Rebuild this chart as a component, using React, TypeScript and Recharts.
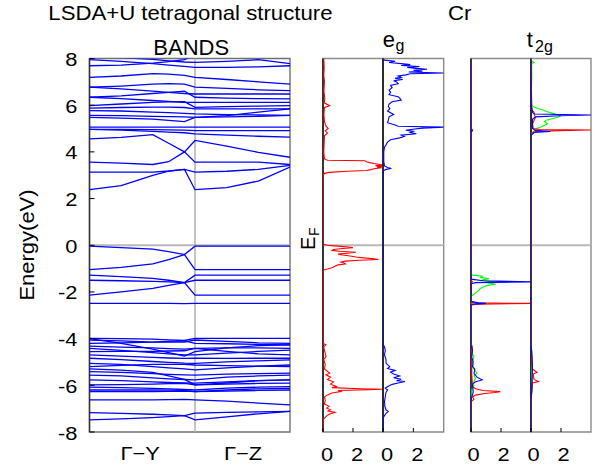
import React from 'react';
import { ScatterChart, Scatter, XAxis, YAxis, ReferenceLine, ReferenceArea } from 'recharts';

const FONT = '"Liberation Sans", Arial, Helvetica, sans-serif';
const SX = 1.15;

// ---------- band structure data ----------
const kPoints = [0, 0.3, 0.6, 0.75, 0.9, 1.0, 1.3, 1.6, 1.9];
const kTickPos = [0.48, 1.455];
const kTickLabels = ['\u0393\u2212Y', '\u0393\u2212Z'];
const energyTicks = [-8, -6, -4, -2, 0, 2, 4, 6, 8];

const bandsUpper: number[][] = [
  [7.95, 7.88, 7.78, 7.72, 7.66, 7.62, 7.62, 7.64, 7.69],
  [8.1, 8.04, 7.96, 7.9, 7.85, 7.83, 7.88, 7.95, 7.78],
  [7.69, 7.72, 7.8, 7.87, 7.95, 8.15, 8.3, 8.3, 8.3],
  [7.19, 7.25, 7.35, 7.33, 7.28, 7.19, 7.1, 7.0, 6.9],
  [6.77, 6.82, 6.9, 6.92, 6.9, 6.77, 6.72, 6.66, 6.62],
  [6.77, 6.7, 6.6, 6.55, 6.5, 6.48, 6.48, 6.48, 6.48],
  [6.34, 6.4, 6.5, 6.55, 6.6, 6.34, 6.3, 6.28, 6.27],
  [6.34, 6.28, 6.2, 6.16, 6.12, 6.12, 6.12, 6.12, 6.12],
  [5.98, 6.05, 6.12, 6.14, 6.15, 5.91, 5.94, 5.96, 5.98],
  [5.87, 5.9, 5.92, 5.92, 5.9, 5.84, 5.84, 5.84, 5.84],
  [5.77, 5.75, 5.7, 5.68, 5.65, 5.63, 5.6, 5.58, 5.56],
  [5.56, 5.55, 5.52, 5.51, 5.5, 5.48, 5.55, 5.7, 5.84],
  [5.48, 5.45, 5.4, 5.35, 5.3, 5.48, 5.5, 5.52, 5.56],
  [5.06, 5.06, 5.06, 5.06, 5.06, 5.06, 5.06, 5.06, 5.06],
  [4.96, 4.96, 4.95, 4.94, 4.93, 4.91, 4.91, 4.91, 4.91],
  [4.96, 4.93, 4.88, 4.85, 4.82, 4.77, 4.72, 4.67, 4.63],
  [4.56, 4.62, 4.74, 4.37, 4.0, 3.56, 3.56, 3.56, 3.46],
  [3.56, 3.52, 3.46, 3.58, 4.0, 4.49, 4.25, 3.98, 3.77],
  [3.13, 3.13, 3.13, 3.18, 3.25, 3.13, 3.17, 3.25, 3.42],
  [2.38, 2.55, 2.99, 3.18, 3.25, 2.38, 2.47, 2.75, 3.35],
];

const bandsGap: number[][] = [
  [-0.04, -0.1, -0.17, -0.27, -0.4, -0.04, -0.04, -0.04, -0.04],
  [-1.04, -0.95, -0.8, -0.62, -0.4, -1.04, -1.04, -1.04, -1.04],
  [-1.28, -1.34, -1.42, -1.5, -1.6, -2.14, -2.14, -2.14, -2.14],
  [-2.14, -2.0, -1.85, -1.72, -1.6, -1.28, -1.28, -1.28, -1.28],
  [-1.5, -1.52, -1.55, -1.57, -1.6, -1.5, -1.5, -1.5, -1.5],
  [-2.49, -2.49, -2.49, -2.49, -2.5, -2.49, -2.49, -2.49, -2.49],
];

const bandsLower: number[][] = [
  [-3.99, -4.0, -4.02, -4.05, -4.08, -3.99, -3.99, -3.99, -3.99],
  [-4.06, -4.1, -4.15, -4.15, -4.15, -4.06, -4.12, -4.18, -4.2],
  [-4.2, -4.18, -4.15, -4.12, -4.1, -4.2, -4.22, -4.25, -4.27],
  [-4.32, -4.36, -4.4, -4.43, -4.45, -4.42, -4.4, -4.4, -4.42],
  [-4.42, -4.5, -4.6, -4.65, -4.7, -4.7, -4.62, -4.55, -4.49],
  [-4.56, -4.55, -4.55, -4.53, -4.52, -4.42, -4.55, -4.65, -4.7],
  [-4.7, -4.75, -4.8, -4.83, -4.85, -4.84, -4.85, -4.84, -4.84],
  [-4.84, -4.9, -4.98, -5.02, -5.05, -5.06, -5.0, -4.95, -4.91],
  [-5.06, -5.1, -5.2, -5.25, -5.3, -5.34, -5.25, -5.18, -5.13],
  [-5.2, -5.15, -5.1, -5.1, -5.1, -5.13, -5.16, -5.18, -5.2],
  [-5.41, -5.45, -5.5, -5.53, -5.55, -5.56, -5.52, -5.5, -5.48],
  [-5.56, -5.6, -5.68, -5.72, -5.75, -5.77, -5.65, -5.6, -5.56],
  [-5.77, -5.8, -5.85, -5.88, -5.9, -5.91, -5.85, -5.8, -5.77],
  [-5.98, -5.97, -5.95, -5.93, -5.92, -5.98, -5.95, -5.92, -5.91],
  [-6.08, -6.1, -6.13, -6.15, -6.18, -6.2, -6.12, -6.08, -6.06],
  [-6.2, -6.2, -6.2, -6.21, -6.22, -6.27, -6.2, -6.15, -6.13],
  [-6.27, -6.27, -6.27, -6.26, -6.25, -6.27, -6.25, -6.22, -6.2],
  [-6.62, -6.62, -6.62, -6.61, -6.6, -6.62, -6.68, -6.76, -6.84],
  [-7.17, -7.2, -7.24, -7.27, -7.3, -7.19, -7.16, -7.14, -7.12],
  [-7.48, -7.44, -7.38, -7.34, -7.3, -7.48, -7.35, -7.22, -7.12],
  [-4.0, -4.2, -4.45, -4.6, -4.75, -4.56, -4.4, -4.3, -4.27],
  [-5.3, -5.35, -5.45, -5.6, -5.75, -5.98, -5.9, -5.8, -5.77],
];

// ---------- DOS data: [energy, dos] ----------
const dosTicks = [0, 2];

const egUp: number[][] = [
  [8.0, 0.05], [7.6, 0.08], [7.3, 0.05], [7.0, 0.1], [6.6, 0.06], [6.3, 0.12], [6.1, 0.08], [5.98, 0.45], [5.9, 0.1],
  [5.6, 0.06], [5.3, 0.1], [5.1, 0.2], [5.0, 0.35], [4.9, 0.15], [4.8, 0.3], [4.7, 0.1], [4.4, 0.08], [4.0, 0.05],
  [3.7, 0.1], [3.64, 0.3], [3.62, 2.8], [3.58, 2.9], [3.54, 3.1], [3.5, 3.4], [3.47, 3.7], [3.44, 4.0], [3.41, 3.5],
  [3.38, 4.0], [3.35, 3.6], [3.32, 3.9], [3.28, 3.4], [3.24, 3.2], [3.2, 2.9], [3.17, 1.6], [3.12, 0.4], [3.08, 0.1],
  [3.0, 0.02], [2.8, 0], [0.05, 0], [0, 0.3], [-0.05, 1.2], [-0.1, 2.0], [-0.14, 1.3], [-0.18, 0.7], [-0.22, 0.6],
  [-0.26, 1.1], [-0.3, 2.2], [-0.34, 1.6], [-0.38, 1.0], [-0.42, 1.3], [-0.46, 1.8], [-0.5, 2.2], [-0.54, 2.7],
  [-0.58, 3.4], [-0.61, 3.7], [-0.64, 2.4], [-0.68, 1.5], [-0.72, 1.2], [-0.76, 1.4], [-0.8, 1.5], [-0.84, 1.0],
  [-0.9, 0.8], [-0.96, 0.6], [-1.02, 0.3], [-1.06, 0.05], [-1.1, 0], [-4.2, 0], [-4.27, 0.2], [-4.35, 0.05],
  [-4.5, 0.1], [-4.77, 0.2], [-4.9, 0.05], [-5.1, 0.15], [-5.3, 0.1], [-5.48, 0.45], [-5.55, 0.2], [-5.65, 0.5],
  [-5.75, 0.3], [-5.85, 0.7], [-5.95, 0.5], [-6.05, 0.9], [-6.1, 0.6], [-6.15, 2.5], [-6.17, 4.0], [-6.19, 3.0],
  [-6.22, 1.0], [-6.27, 1.2], [-6.33, 0.6], [-6.41, 0.3], [-6.5, 0.1], [-6.65, 0.15], [-6.8, 0.1], [-6.9, 0.4],
  [-6.98, 0.25], [-7.05, 0.5], [-7.1, 0.35], [-7.16, 0.8], [-7.22, 0.5], [-7.28, 0.3], [-7.4, 0.1], [-7.5, 0], [-8, 0],
];

const egDown: number[][] = [
  [8.0, 0], [7.93, 0.1], [7.88, 0.8], [7.83, 0.4], [7.78, 1.2], [7.74, 1.8], [7.7, 1.2], [7.66, 2.4], [7.62, 1.6],
  [7.58, 2.2], [7.54, 2.9], [7.5, 2.0], [7.46, 2.6], [7.42, 1.7], [7.38, 4.0], [7.35, 1.8], [7.3, 1.5], [7.25, 1.0],
  [7.2, 1.2], [7.15, 0.8], [7.1, 1.3], [7.05, 0.7], [7.0, 0.9], [6.92, 1.0], [6.85, 0.5], [6.75, 0.6], [6.65, 0.4],
  [6.55, 0.5], [6.45, 0.4], [6.36, 1.0], [6.3, 1.1], [6.22, 1.2], [6.15, 0.6], [6.05, 0.4], [5.95, 0.35],
  [5.85, 0.45], [5.75, 0.3], [5.6, 0.7], [5.5, 0.4], [5.35, 0.35], [5.25, 0.3], [5.15, 0.8], [5.1, 1.0],
  [5.06, 4.0], [5.02, 2.6], [4.98, 2.1], [4.93, 1.5], [4.88, 2.0], [4.83, 1.8], [4.78, 2.2], [4.72, 1.2],
  [4.66, 1.4], [4.6, 1.1], [4.52, 0.5], [4.42, 0.3], [4.3, 0.2], [4.2, 0.1], [4.0, 0.05], [3.6, 0.05], [3.4, 0.1],
  [3.33, 0.3], [3.29, 0.55], [3.25, 0.2], [3.2, 0.05], [3.1, 0], [-4.25, 0], [-4.35, 0.1], [-4.5, 0.15],
  [-4.7, 0.1], [-4.9, 0.2], [-5.06, 0.2], [-5.2, 0.45], [-5.28, 0.3], [-5.36, 0.8], [-5.44, 0.5], [-5.52, 0.7],
  [-5.6, 1.1], [-5.68, 0.7], [-5.74, 1.2], [-5.8, 0.9], [-5.84, 1.45], [-5.9, 1.0], [-5.96, 0.6], [-6.04, 0.35],
  [-6.12, 0.15], [-6.2, 0.3], [-6.3, 0.2], [-6.48, 0.15], [-6.7, 0.1], [-6.9, 0.12], [-7.05, 0.2], [-7.12, 0.35],
  [-7.2, 0.2], [-7.3, 0.1], [-7.4, 0], [-8, 0],
];

const t2gUpGreen: number[][] = [
  [8, 0], [-1.2, 0], [-1.28, 0.1], [-1.33, 0.8], [-1.38, 0.6], [-1.43, 1.2], [-1.5, 0.7], [-1.57, 1.4], [-1.62, 1.2],
  [-1.67, 1.65], [-1.72, 1.1], [-1.78, 0.85], [-1.86, 0.6], [-1.94, 0.5], [-2.02, 0.35], [-2.1, 0.2], [-2.16, 0.05],
  [-2.2, 0], [-4.25, 0], [-4.3, 0.1], [-4.6, 0.05], [-4.77, 0.2], [-5.0, 0.1], [-5.26, 0.15], [-5.48, 0.4],
  [-5.6, 0.2], [-5.7, 0.3], [-5.91, 0.15], [-6.0, 0.2], [-6.2, 0.05], [-6.5, 0.05], [-6.7, 0], [-8, 0],
];
const t2gUpRed: number[][] = [
  [8, 0], [5.0, 0], [4.95, 0.1], [4.9, 0], [-1.5, 0], [-1.57, 0.1], [-1.62, 0], [-2.44, 0], [-2.47, 0.3],
  [-2.49, 4.0], [-2.52, 0.5], [-2.56, 0], [-4.3, 0], [-4.4, 0.1], [-4.6, 0.02], [-5.0, 0.05], [-5.5, 0.05],
  [-6.05, 0.1], [-6.15, 0.3], [-6.22, 0.8], [-6.27, 1.95], [-6.31, 1.6], [-6.35, 0.9], [-6.42, 0.3], [-6.5, 0.1],
  [-6.6, 0.2], [-6.7, 0], [-8, 0],
];
const t2gUpBlue: number[][] = [
  [8, 0], [4.95, 0], [4.9, 0.1], [4.85, 0], [-1.45, 0], [-1.52, 0.8], [-1.57, 4.0], [-1.6, 0.3], [-1.65, 0],
  [-2.4, 0], [-2.47, 0.5], [-2.49, 1.0], [-2.52, 0.1], [-2.6, 0], [-4.3, 0], [-4.5, 0.1], [-4.8, 0.05], [-5.0, 0.15],
  [-5.2, 0.1], [-5.3, 0.25], [-5.5, 0.2], [-5.65, 0.4], [-5.77, 0.75], [-5.85, 0.3], [-5.95, 0.1], [-6.3, 0.15],
  [-6.5, 0.05], [-6.7, 0], [-8, 0],
];

const t2gDownGreen: number[][] = [
  [8, 0], [7.9, 0.05], [7.83, 0.2], [7.78, 0.05], [7.2, 0.05], [6.5, 0.02], [6.0, 0.05], [5.92, 0.2], [5.85, 0.5],
  [5.78, 0.85], [5.72, 1.1], [5.66, 1.4], [5.6, 1.7], [5.54, 1.96], [5.48, 1.8], [5.42, 1.4], [5.36, 1.0],
  [5.3, 0.9], [5.25, 1.0], [5.2, 1.1], [5.14, 0.9], [5.08, 0.7], [5.0, 0.4], [4.9, 0.2], [4.8, 0.05], [4.6, 0],
  [-4.3, 0], [-4.5, 0.05], [-5.0, 0.08], [-5.5, 0.05], [-6.0, 0.08], [-6.5, 0.03], [-6.7, 0], [-8, 0],
];
const t2gDownRed: number[][] = [
  [8, 0], [5.8, 0.05], [5.7, 0.2], [5.55, 0.25], [5.48, 0.3], [5.2, 0.1], [5.0, 0.15], [4.96, 0.6], [4.94, 4.0],
  [4.91, 1.9], [4.87, 0.3], [4.8, 0.05], [4.7, 0], [-4.3, 0], [-4.8, 0.05], [-5.3, 0.1], [-5.45, 0.4],
  [-5.52, 0.15], [-5.75, 0.2], [-5.84, 0.5], [-5.9, 0.1], [-6.3, 0.05], [-6.6, 0], [-8, 0],
];
const t2gDownBlue: number[][] = [
  [8, 0], [6.0, 0.02], [5.7, 0.1], [5.62, 0.2], [5.58, 4.0], [5.55, 1.9], [5.5, 0.3], [5.4, 0.1], [5.0, 0.1],
  [4.92, 0.3], [4.87, 1.3], [4.83, 0.2], [4.7, 0], [-4.3, 0], [-4.6, 0.05], [-5.2, 0.1], [-5.7, 0.08],
  [-6.2, 0.05], [-6.6, 0], [-8, 0],
];

// ---------- helpers ----------
const NoShape = () => <g />;

const T = ({ x, y, size, sx = SX, anchor = 'start', rot = 0, children }: any) => (
  <text
    x={0}
    y={0}
    transform={`translate(${x},${y}) rotate(${rot}) scale(${sx},1)`}
    fontSize={size}
    fontFamily={FONT}
    textAnchor={anchor}
    fill="#000"
  >
    {children}
  </text>
);

const YTick = (props: any) => {
  const { x, y, payload } = props;
  return (
    <g>
      <T x={x} y={y + 7.5} size={19} anchor="end">{payload.value}</T>
      <line x1={x + 12} x2={x + 17} y1={y} y2={y} stroke="#000" strokeWidth={1} />
    </g>
  );
};

const KTick = (props: any) => {
  const { x, y, payload } = props;
  const idx = kTickPos.indexOf(payload.value);
  return <T x={x} y={y + 28} size={19} anchor="middle">{kTickLabels[idx]}</T>;
};

const DosTick = (props: any) => {
  const { x, y, payload, dx } = props;
  return (
    <g>
      <line x1={x} x2={x} y1={y} y2={y - 4} stroke="#000" strokeWidth={1} />
      <T x={x + dx} y={y + 29} size={19} anchor="middle">{payload.value}</T>
    </g>
  );
};

const PLOT_TOP = 58.5;
const AXIS_H = 36;
const H = 468;

const toPts = (arr: number[][]) => arr.map(([e, v]) => ({ e, v }));

const DosPanel = ({ left, width, curves, dx }: any) => (
  <div style={{ position: 'absolute', left: left - 10, top: 0 }}>
    <ScatterChart width={width + 20} height={H} margin={{ top: PLOT_TOP, right: 10, bottom: 0, left: 10 }}>
      <XAxis
        type="number"
        dataKey="v"
        domain={[0, 4]}
        allowDataOverflow
        ticks={dosTicks}
        interval={0}
        height={AXIS_H}
        tickSize={0}
        tickMargin={0}
        axisLine={false}
        tickLine={false}
        tick={<DosTick dx={dx} />}
      />
      <YAxis type="number" dataKey="e" domain={[-8, 8]} allowDataOverflow hide />
      <ReferenceArea x1={0} x2={4} y1={-8} y2={8} fill="none" stroke="#8a8a8a" strokeWidth={1.4} />
      <ReferenceLine y={0} stroke="#b8b8b8" strokeWidth={2} />
      {curves.map((c: any, i: number) => (
        <Scatter
          key={i}
          data={toPts(c.data)}
          fill={c.color}
          shape={NoShape}
          line={{ stroke: c.color, strokeWidth: 1.1 }}
          isAnimationActive={false}
        />
      ))}
      <ReferenceLine x={0} stroke="#000" strokeWidth={1.4} />
    </ScatterChart>
  </div>
);

const bandSeries = [...bandsUpper, ...bandsGap, ...bandsLower];

export default function App() {
  return (
    <div style={{ position: 'fixed', left: 0, top: 0, width: 598, height: 468, background: '#fff', overflow: 'hidden' }}>
      <div style={{ position: 'absolute', left: 0, top: 0 }}>
        <ScatterChart width={300} height={H} margin={{ top: PLOT_TOP, right: 10, bottom: 0, left: 0 }}>
          <XAxis
            type="number"
            dataKey="k"
            domain={[0, 1.9]}
            allowDataOverflow
            ticks={kTickPos}
            interval={0}
            height={AXIS_H}
            tickSize={0}
            tickMargin={0}
            axisLine={false}
            tickLine={false}
            tick={<KTick />}
          />
          <YAxis
            type="number"
            dataKey="e"
            domain={[-8, 8]}
            allowDataOverflow
            ticks={energyTicks}
            interval={0}
            width={89.5}
            tickSize={0}
            tickMargin={12}
            axisLine={false}
            tickLine={false}
            tick={<YTick />}
          />
          <ReferenceArea x1={0} x2={1.9} y1={-8} y2={8} fill="none" stroke="#707070" strokeWidth={1.4} />
          <ReferenceLine y={0} stroke="#b8b8b8" strokeWidth={2} />
          <ReferenceLine x={1.0} stroke="#b0b0b0" strokeWidth={1.5} />
          {bandSeries.map((b, i) => (
            <Scatter
              key={i}
              data={kPoints.map((k, j) => ({ k, e: b[j] }))}
              fill="#0000ff"
              shape={NoShape}
              line={{ stroke: '#0000ff', strokeWidth: 1.3 }}
              isAnimationActive={false}
            />
          ))}
          <ReferenceLine x={0} stroke="#333" strokeWidth={1.4} />
        </ScatterChart>
      </div>

      <DosPanel
        left={323.3}
        width={60}
        dx={4}
        curves={[{ data: egUp, color: '#ff0000' }]}
      />
      <DosPanel
        left={383.3}
        width={60.7}
        dx={4}
        curves={[{ data: egDown, color: '#0000ff' }]}
      />
      <DosPanel
        left={470.7}
        width={60}
        dx={2.5}
        curves={[
          { data: t2gUpGreen, color: '#00ff00' },
          { data: t2gUpRed, color: '#ff0000' },
          { data: t2gUpBlue, color: '#0000ff' },
        ]}
      />
      <DosPanel
        left={530.7}
        width={60}
        dx={2.5}
        curves={[
          { data: t2gDownGreen, color: '#00ff00' },
          { data: t2gDownRed, color: '#ff0000' },
          { data: t2gDownBlue, color: '#0000ff' },
        ]}
      />

      <svg width={598} height={468} style={{ position: 'absolute', left: 0, top: 0, pointerEvents: 'none' }}>
        <T x={48.3} y={19.5} size={20} sx={1.11}>LSDA+U tetragonal structure</T>
        <T x={448} y={19.5} size={20} sx={1.11}>Cr</T>
        <T x={153.3} y={55} size={22} sx={1.0}>BANDS</T>
        <T x={382.7} y={46.7} size={22} sx={1.0}>e</T>
        <T x={395.5} y={51} size={16} sx={1.0}>g</T>
        <T x={526.7} y={46.7} size={22} sx={1.0}>t</T>
        <T x={535} y={51.5} size={16} sx={1.0}>2g</T>
        <T x={34} y={245} size={20} sx={1.1} anchor="middle" rot={-90}>Energy(eV)</T>
        <T x={315} y={250} size={20} sx={1.0} rot={-90}>E</T>
        <T x={319} y={236} size={14} sx={1.0} rot={-90}>F</T>
      </svg>
    </div>
  );
}
